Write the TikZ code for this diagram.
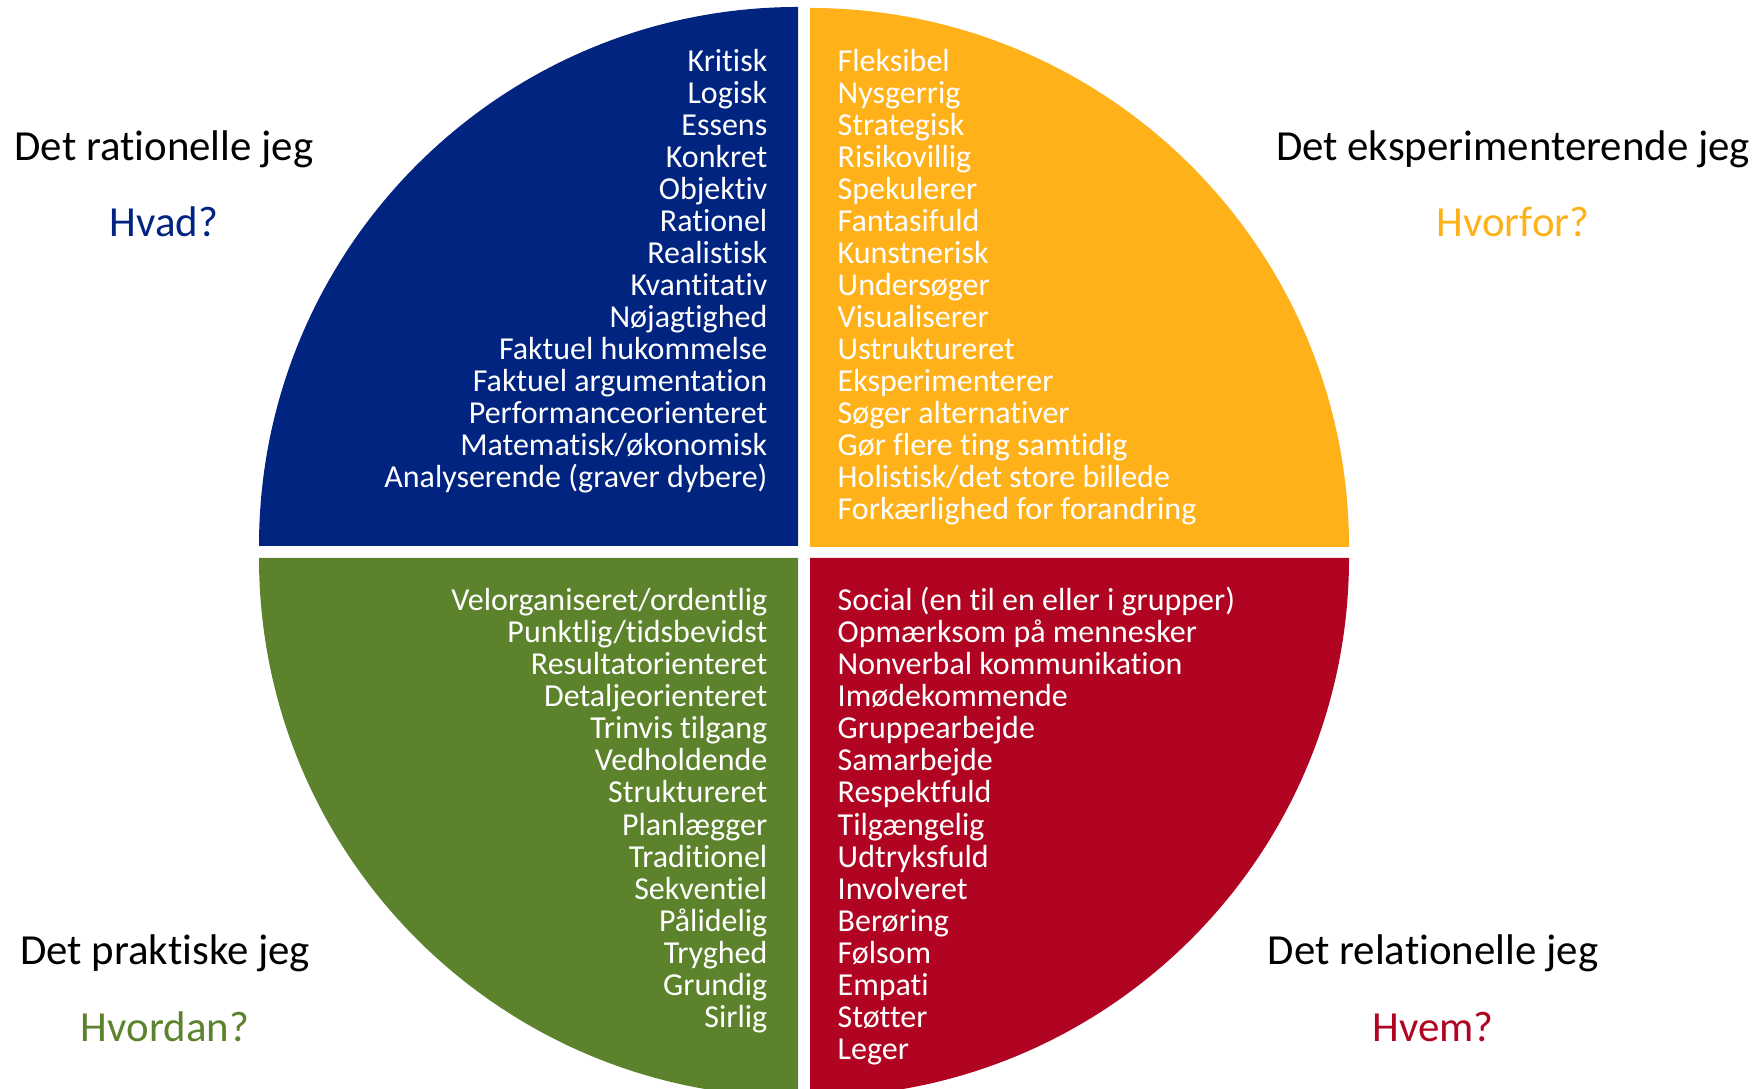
\documentclass[tikz,border=0pt]{standalone}
\usepackage{fontspec}
\setmainfont{Carlito}[Ligatures=NoCommon]
\definecolor{ratblue}{RGB}{0,36,128}
\definecolor{eksorange}{RGB}{255,177,26}
\definecolor{prakgreen}{RGB}{92,131,44}
\definecolor{relred}{RGB}{176,4,34}

\begin{document}
\begin{tikzpicture}[
  item/.style={text=white, inner sep=0pt, font=\fontsize{9.1}{10}\selectfont},
  jeg/.style={inner sep=0pt, anchor=base, font=\fontsize{12.2}{14}\selectfont}
]
\useasboundingbox (0,0) rectangle (17.62,10.89);
\clip (0,0) rectangle (17.62,10.89);

\fill[ratblue] (7.980, 5.430) -- (2.590, 5.430) arc[start angle=180, end angle=90, radius=5.39] -- cycle;
\fill[eksorange] (8.100, 5.420) -- (8.100, 10.810) arc[start angle=90, end angle=0, radius=5.39] -- cycle;
\fill[prakgreen] (7.980, 5.310) -- (7.980, -0.080) arc[start angle=270, end angle=180, radius=5.39] -- cycle;
\fill[relred] (8.100, 5.310) -- (13.490, 5.310) arc[start angle=0, end angle=-90, radius=5.39] -- cycle;

\foreach \txt [count=\i] in {Kritisk, Logisk, Essens, Konkret, Objektiv, Rationel, Realistisk, Kvantitativ, Nøjagtighed, Faktuel hukommelse, Faktuel argumentation, Performanceorienteret, Matematisk/økonomisk, Analyserende (graver dybere)}
  \node[item, anchor=base east] (rat-\i) at (7.68, 10.17-0.32*\i+0.32) {\txt};
\foreach \txt [count=\i] in {Fleksibel, Nysgerrig, Strategisk, Risikovillig, Spekulerer, Fantasifuld, Kunstnerisk, Undersøger, Visualiserer, Ustruktureret, Eksperimenterer, Søger alternativer, Gør flere ting samtidig, Holistisk/det store billede, Forkærlighed for forandring}
  \node[item, anchor=base west] (eks-\i) at (8.37, 10.17-0.32*\i+0.32) {\txt};
\foreach \txt [count=\i] in {Velorganiseret/ordentlig, Punktlig/tidsbevidst, Resultatorienteret, Detaljeorienteret, Trinvis tilgang, Vedholdende, Struktureret, Planlægger, Traditionel, Sekventiel, Pålidelig, Tryghed, Grundig, Sirlig}
  \node[item, anchor=base east] (prak-\i) at (7.68, 4.78-0.32*\i+0.32) {\txt};
\foreach \txt [count=\i] in {Social (en til en eller i grupper), Opmærksom på mennesker, Nonverbal kommunikation, Imødekommende, Gruppearbejde, Samarbejde, Respektfuld, Tilgængelig, Udtryksfuld, Involveret, Berøring, Følsom, Empati, Støtter, Leger}
  \node[item, anchor=base west] (rel-\i) at (8.37, 4.78-0.32*\i+0.32) {\txt};

\node[jeg] (rat) at (1.64, 9.28) {Det rationelle jeg};
\node[jeg, text=ratblue] (hvad) at (1.64, 8.52) {Hvad?};
\node[jeg] (eks) at (15.13, 9.28) {Det eksperimenterende jeg};
\node[jeg, text=eksorange] (hvorfor) at (15.13, 8.52) {Hvorfor?};
\node[jeg] (prak) at (1.65, 1.24) {Det praktiske jeg};
\node[jeg, text=prakgreen] (hvordan) at (1.65, 0.48) {Hvordan?};
\node[jeg] (rel) at (14.33, 1.24) {Det relationelle jeg};
\node[jeg, text=relred] (hvem) at (14.33, 0.48) {Hvem?};
\end{tikzpicture}
\end{document}
